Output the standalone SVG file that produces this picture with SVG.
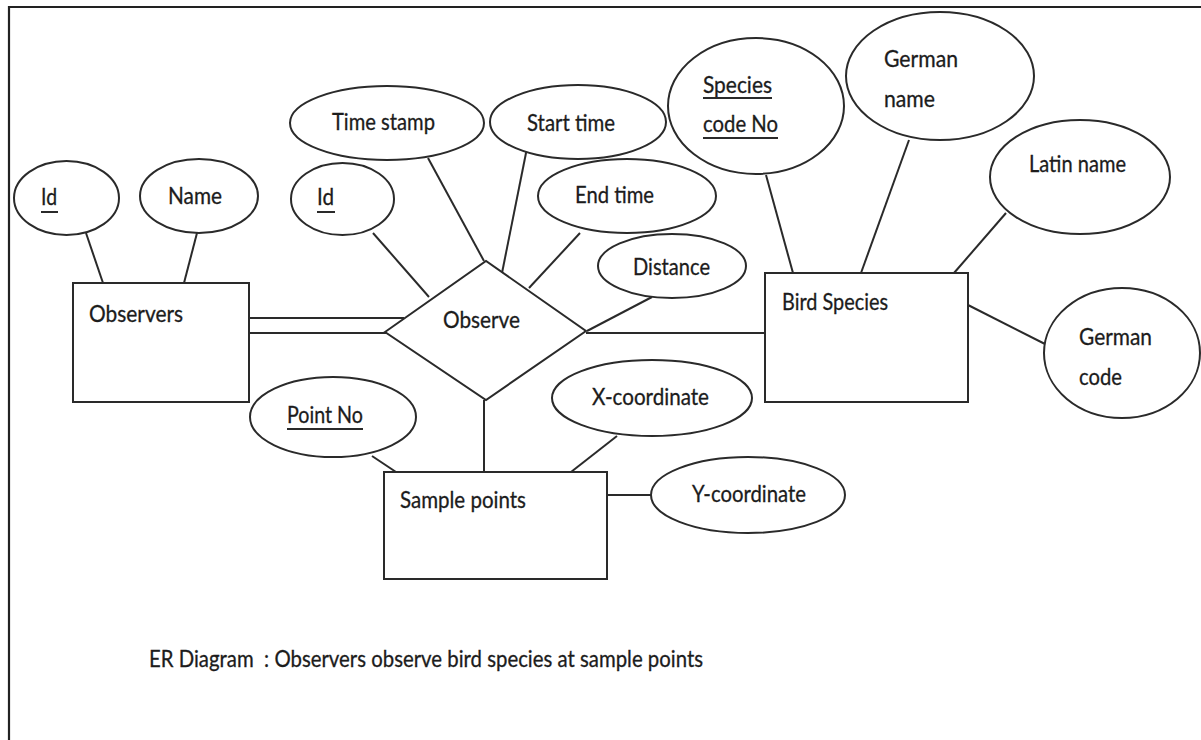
<svg xmlns="http://www.w3.org/2000/svg" width="1201" height="740" viewBox="0 0 1201 740">
  <style>
    .bg { fill: #ffffff; }
    .frame { fill: none; stroke: #222222; stroke-width: 2.2; }
    .shape { fill: #ffffff; stroke: #2a2a2a; stroke-width: 2; }
    .link { fill: none; stroke: #2a2a2a; stroke-width: 2; }
    .lbl { font-family: Lato, "Open Sans", "Liberation Sans", sans-serif; font-size: 23px; fill: #1c1c1c; stroke: #1c1c1c; stroke-width: 0.3; }
    .ul { stroke: #2a2a2a; stroke-width: 2; }
  </style>

  <rect class="bg" x="0" y="0" width="1201" height="740"/>
  <!-- page frame -->
  <polyline class="frame" points="9,740 9,7 1201,7"/>

  <!-- connectors -->
  <g id="connectors">
    <line class="link" x1="86" y1="233" x2="103" y2="283"/>
    <line class="link" x1="197" y1="233" x2="184" y2="283"/>
    <line class="link" x1="249" y1="318" x2="404" y2="318"/>
    <line class="link" x1="249" y1="333" x2="386" y2="333"/>
    <line class="link" x1="373" y1="233" x2="429" y2="297"/>
    <line class="link" x1="428" y1="158" x2="484" y2="261"/>
    <line class="link" x1="527" y1="148" x2="502" y2="273"/>
    <line class="link" x1="580" y1="233" x2="529" y2="288"/>
    <line class="link" x1="652" y1="297" x2="587" y2="331"/>
    <line class="link" x1="586" y1="333" x2="765" y2="333"/>
    <line class="link" x1="484" y1="400" x2="484" y2="472"/>
    <line class="link" x1="372" y1="456" x2="396" y2="472"/>
    <line class="link" x1="617" y1="436" x2="571" y2="472"/>
    <line class="link" x1="607" y1="495" x2="652" y2="495"/>
    <line class="link" x1="766" y1="175" x2="793" y2="273"/>
    <line class="link" x1="909" y1="140" x2="861" y2="273"/>
    <line class="link" x1="1006" y1="213" x2="954" y2="273"/>
    <line class="link" x1="968" y1="305" x2="1045" y2="344"/>
  </g>

  <!-- entities -->
  <g id="observers">
    <rect class="shape" x="73" y="283" width="176" height="119"/>
    <text class="lbl" x="89" y="322" textLength="94" lengthAdjust="spacingAndGlyphs">Observers</text>
  </g>
  <g id="bird-species">
    <rect class="shape" x="765" y="273" width="203" height="129"/>
    <text class="lbl" x="782" y="310" textLength="106" lengthAdjust="spacingAndGlyphs">Bird Species</text>
  </g>
  <g id="sample-points">
    <rect class="shape" x="384" y="472" width="223" height="107"/>
    <text class="lbl" x="400" y="508" textLength="126" lengthAdjust="spacingAndGlyphs">Sample points</text>
  </g>

  <!-- relationship -->
  <g id="observe">
    <polygon class="shape" points="385,332 486,261 586,331 486,400"/>
    <text class="lbl" x="443" y="328" textLength="77" lengthAdjust="spacingAndGlyphs">Observe</text>
  </g>

  <!-- attributes of Observers -->
  <g id="observer-id">
    <ellipse class="shape" cx="66.5" cy="198" rx="52.5" ry="37"/>
    <text class="lbl" x="41" y="205" textLength="16" lengthAdjust="spacingAndGlyphs">Id</text>
    <line class="ul" x1="41" y1="212" x2="58" y2="212"/>
  </g>
  <g id="observer-name">
    <ellipse class="shape" cx="199" cy="196" rx="59" ry="37"/>
    <text class="lbl" x="168" y="204" textLength="54" lengthAdjust="spacingAndGlyphs">Name</text>
  </g>

  <!-- attributes of Observe -->
  <g id="observe-id">
    <ellipse class="shape" cx="342.5" cy="199" rx="51.5" ry="36"/>
    <text class="lbl" x="317" y="205" textLength="17" lengthAdjust="spacingAndGlyphs">Id</text>
    <line class="ul" x1="317" y1="212" x2="335" y2="212"/>
  </g>
  <g id="time-stamp">
    <ellipse class="shape" cx="387" cy="123" rx="97" ry="37"/>
    <text class="lbl" x="332" y="130" textLength="103" lengthAdjust="spacingAndGlyphs">Time stamp</text>
  </g>
  <g id="start-time">
    <ellipse class="shape" cx="578" cy="122" rx="88" ry="37"/>
    <text class="lbl" x="527" y="131" textLength="88" lengthAdjust="spacingAndGlyphs">Start time</text>
  </g>
  <g id="end-time">
    <ellipse class="shape" cx="627" cy="196" rx="89" ry="37"/>
    <text class="lbl" x="575" y="203" textLength="79" lengthAdjust="spacingAndGlyphs">End time</text>
  </g>
  <g id="distance">
    <ellipse class="shape" cx="672" cy="266" rx="74" ry="32"/>
    <text class="lbl" x="633" y="275" textLength="77" lengthAdjust="spacingAndGlyphs">Distance</text>
  </g>

  <!-- attributes of Bird Species -->
  <g id="species-code">
    <ellipse class="shape" cx="756" cy="106" rx="88" ry="68"/>
    <text class="lbl" x="703" y="93" textLength="69" lengthAdjust="spacingAndGlyphs">Species</text>
    <line class="ul" x1="703" y1="98" x2="772" y2="98"/>
    <text class="lbl" x="703" y="132" textLength="75" lengthAdjust="spacingAndGlyphs">code No</text>
    <line class="ul" x1="703" y1="138" x2="778" y2="138"/>
  </g>
  <g id="german-name">
    <ellipse class="shape" cx="940" cy="76" rx="94" ry="64"/>
    <text class="lbl" x="884" y="67" textLength="74" lengthAdjust="spacingAndGlyphs">German</text>
    <text class="lbl" x="884" y="107" textLength="51" lengthAdjust="spacingAndGlyphs">name</text>
  </g>
  <g id="latin-name">
    <ellipse class="shape" cx="1080" cy="177" rx="90" ry="57"/>
    <text class="lbl" x="1029" y="172" textLength="97" lengthAdjust="spacingAndGlyphs">Latin name</text>
  </g>
  <g id="german-code">
    <ellipse class="shape" cx="1122" cy="353" rx="78" ry="65"/>
    <text class="lbl" x="1079" y="345" textLength="73" lengthAdjust="spacingAndGlyphs">German</text>
    <text class="lbl" x="1079" y="385" textLength="43" lengthAdjust="spacingAndGlyphs">code</text>
  </g>

  <!-- attributes of Sample points -->
  <g id="point-no">
    <ellipse class="shape" cx="333" cy="417" rx="83" ry="40"/>
    <text class="lbl" x="287" y="423" textLength="76" lengthAdjust="spacingAndGlyphs">Point No</text>
    <line class="ul" x1="287" y1="429" x2="363" y2="429"/>
  </g>
  <g id="x-coordinate">
    <ellipse class="shape" cx="652" cy="398" rx="100" ry="38"/>
    <text class="lbl" x="592" y="405" textLength="117" lengthAdjust="spacingAndGlyphs">X-coordinate</text>
  </g>
  <g id="y-coordinate">
    <ellipse class="shape" cx="748" cy="495" rx="97" ry="38"/>
    <text class="lbl" x="692" y="502" textLength="114" lengthAdjust="spacingAndGlyphs">Y-coordinate</text>
  </g>

  <!-- caption -->
  <text class="lbl" x="149" y="667" textLength="554" lengthAdjust="spacingAndGlyphs" xml:space="preserve">ER Diagram  : Observers observe bird species at sample points</text>
</svg>
